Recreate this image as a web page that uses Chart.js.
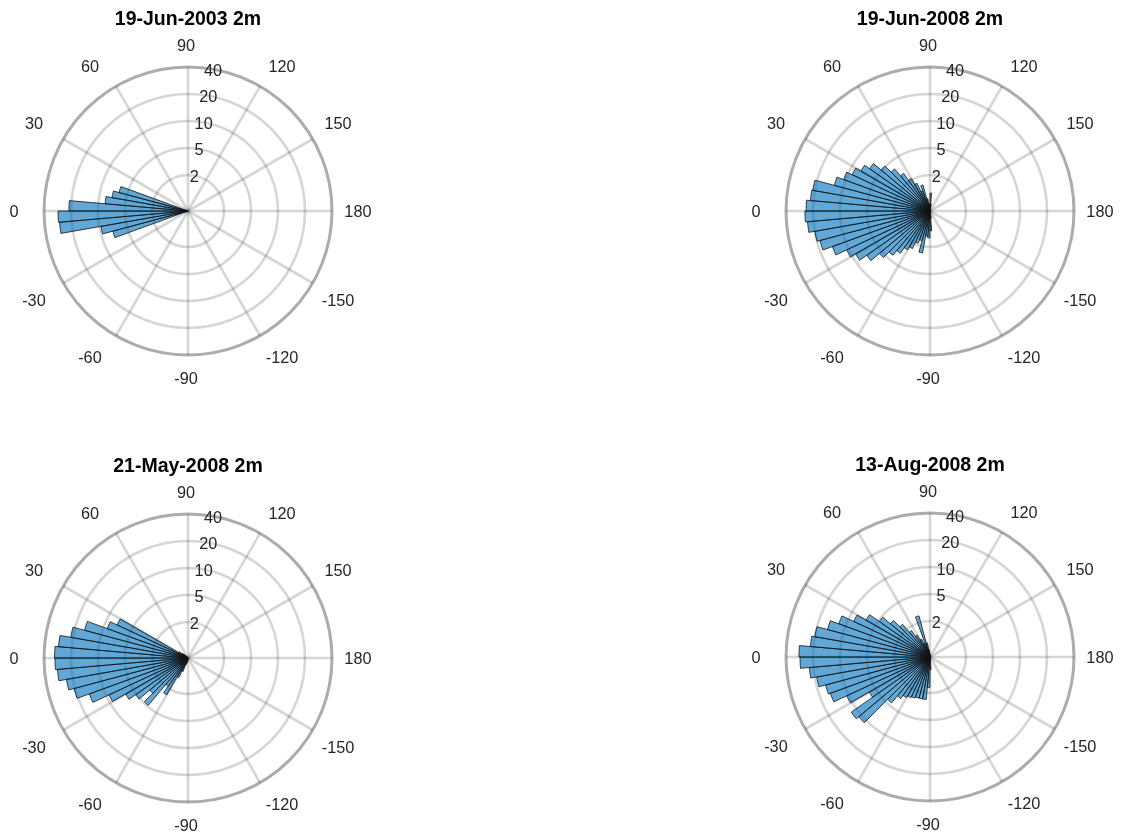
<!DOCTYPE html>
<html>
<head>
<meta charset="utf-8">
<script src="https://cdn.jsdelivr.net/npm/chart.js@4.4.1/dist/chart.umd.min.js"></script>
<style>
  html, body { margin: 0; padding: 0; background: #fff; }
  body { width: 1124px; height: 836px; position: relative; overflow: hidden; }
  canvas { position: absolute; }
</style>
</head>
<body>
<canvas id="p1" width="380" height="400" style="left:-2px;top:6px"></canvas>
<canvas id="p2" width="380" height="400" style="left:740px;top:6px"></canvas>
<canvas id="p3" width="380" height="400" style="left:-2px;top:453px"></canvas>
<canvas id="p4" width="380" height="400" style="left:740px;top:452px"></canvas>
<script>
// Start angle (deg) of each 5-degree direction bin; bins outside this range are empty.
const angleBinStarts = [-100, -95, -90, -85, -80, -75, -70, -65, -60, -55,
                        -50, -45, -40, -35, -30, -25, -20, -15, -10, -5,
                        0, 5, 10, 15, 20, 25, 30, 35, 40, 45,
                        50, 55, 60, 65, 70, 75, 80, 85, 90, 95];

// Counts per bin, same order as angleBinStarts.
const counts19Jun2003 = [0, 0, 0, 0, 0, 0, 0, 0, 0, 0,
                         0, 0, 0, 0, 0, 0, 7.3, 9.6, 27.2, 27.9,
                         21.1, 8.4, 7.2, 6.2, 0, 0, 0, 0, 0, 0,
                         0, 0, 0, 0, 0, 0, 0, 0, 0, 0];
const counts19Jun2008 = [0.4, 1.1, 1.5, 1.4, 2.5, 1.7, 1.9, 2.4, 2.7, 3.4,
                         4.2, 5.4, 7.2, 9.0, 10.5, 14.3, 18.5, 20.0, 23.3, 24.6,
                         23.9, 21.6, 21.1, 12.6, 10.5, 9.0, 7.7, 6.6, 5.1, 3.8,
                         2.8, 2.1, 1.7, 1.2, 1.5, 0.7, 0.4, 0.3, 1.0, 0.4];
const counts21May2008 = [0, 0, 0, 0.2, 0.3, 0.4, 0.8, 1.2, 2.5, 1.9,
                         4.8, 3.2, 5.1, 6.3, 9.3, 14.7, 20.5, 23.6, 28.7, 30.2,
                         30.5, 27.9, 21.1, 15.5, 9.0, 7.4, 0.6, 0.4, 0.3, 0.2,
                         0, 0, 0, 0, 0, 0, 0, 0, 0, 0];
const counts13Aug2008 = [0, 0.7, 1.7, 2.5, 2.5, 2.5, 2.6, 2.7, 2.9, 3.3,
                         4.5, 10.8, 11.7, 6.0, 10.5, 15.1, 15.9, 19.0, 22.2, 27.9,
                         28.7, 21.6, 20.0, 15.1, 12.0, 8.6, 6.6, 4.8, 3.4, 2.5,
                         1.8, 1.4, 1.1, 0.8, 2.5, 0.8, 0.4, 0.2, 0, 0];

const panelTitles = ['19-Jun-2003 2m', '19-Jun-2008 2m', '21-May-2008 2m', '13-Aug-2008 2m'];

// Radial rings and their labels; angle tick labels every 30 degrees.
const ringTickLabels = ['2', '5', '10', '20', '40'];
const ringTickCounts = [2, 5, 10, 20, 40];
const angleTickDeg = [0, 30, 60, 90, 120, 150, 180, -150, -120, -90, -60, -30];

const FONT = "'Liberation Sans', Arial, Helvetica, sans-serif";
const R_MIN = -1 / 3;            // radial position of the centre, in ring units
const GRID = 'rgba(38,38,38,0.19)';
const OUTER = 'rgba(38,38,38,0.38)';

// Counts map onto equally spaced rings (2,5,10,20,40 at ring 1..5).
function countToRing(v) {
  if (!v || v <= 0) return R_MIN;
  if (v < ringTickCounts[0]) return R_MIN + (1 - R_MIN) * v / ringTickCounts[0];
  for (let i = 0; i < ringTickCounts.length - 1; i++) {
    const a = ringTickCounts[i], b = ringTickCounts[i + 1];
    if (v <= b) return (i + 1) + Math.log(v / a) / Math.log(b / a);
  }
  return ringTickCounts.length;
}

// Chart index k covers the bin starting at 90 + 5k degrees (clockwise, 0 on the left).
const NBINS = 72;
function binAngle(k) {
  let th = 90 + 5 * k;
  if (th >= 180) th -= 360;
  return th;
}
function toChartOrder(counts) {
  const out = [];
  for (let k = 0; k < NBINS; k++) {
    const j = angleBinStarts.indexOf(binAngle(k));
    out.push(countToRing(j >= 0 ? counts[j] : 0));
  }
  return out;
}

// Offset of an angle label from the centre, as a multiple of the outer radius,
// for labels 0, 30, 60 and 90 degrees away from the horizontal axis.
const LABEL_H = [1.194, 1.056, 0.667, 0];
const LABEL_V = [0, 0.615, 1.007, 1.153];

function angleLabelOffset(a, R) {
  const r = a * Math.PI / 180;
  const cs = -Math.cos(r), sn = -Math.sin(r);
  let fold = Math.abs(a) % 180;
  if (fold > 90) fold = 180 - fold;
  const i = Math.round(fold / 30);
  return {
    dx: Math.sign(Math.round(cs * 1000)) * LABEL_H[i] * R,
    dy: Math.sign(Math.round(sn * 1000)) * LABEL_V[i] * R
  };
}

const textPlugin = {
  id: 'polarText',
  afterDraw(chart) {
    const ctx = chart.ctx;
    const s = chart.scales.r;
    const xc = s.xCenter, yc = s.yCenter, R = s.drawingArea;
    ctx.save();
    // title
    ctx.fillStyle = '#000';
    ctx.font = 'bold 19.5px ' + FONT;
    ctx.textAlign = 'center';
    ctx.textBaseline = 'middle';
    ctx.fillText(chart.options.plugins.panelTitle, xc, yc - 191);
    // angle labels
    ctx.fillStyle = '#262626';
    ctx.font = '16.3px ' + FONT;
    angleTickDeg.forEach(a => {
      const o = angleLabelOffset(a, R);
      ctx.fillText(String(a), xc - 2 + o.dx, yc + 2 + o.dy);
    });
    // ring labels along a ray 10 degrees right of vertical
    const tilt = 10 * Math.PI / 180;
    ringTickLabels.forEach((lab, i) => {
      const d = s.getDistanceFromCenterForValue(i + 1);
      ctx.fillText(lab, xc + d * Math.sin(tilt), yc - d * Math.cos(tilt) + 2);
    });
    ctx.restore();
  }
};

const chartLabels = [];
for (let k = 0; k < NBINS; k++) chartLabels.push(String(binAngle(k)));

function makePanel(id, title, counts) {
  new Chart(document.getElementById(id), {
    type: 'polarArea',
    data: {
      labels: chartLabels,
      datasets: [{
        data: toChartOrder(counts),
        backgroundColor: 'rgba(0,114,189,0.62)',
        borderColor: '#111',
        borderWidth: 0.8,
        borderJoinStyle: 'miter',
        borderAlign: 'center'
      }]
    },
    options: {
      responsive: false,
      animation: false,
      devicePixelRatio: 1,
      layout: { padding: { left: 46, right: 46, top: 61, bottom: 51 } },
      plugins: {
        legend: { display: false },
        tooltip: { enabled: false },
        panelTitle: title
      },
      scales: {
        r: {
          type: 'radialLinear',
          min: R_MIN,
          max: 5,
          startAngle: 0,
          afterBuildTicks: (scale) => {
            scale.ticks = [R_MIN, 1, 2, 3, 4, 5].map(v => ({ value: v }));
          },
          ticks: { display: false },
          pointLabels: { display: false },
          grid: {
            circular: true,
            color: (c) => (c.tick && c.tick.value === 5) ? OUTER : GRID,
            lineWidth: (c) => (c.tick && c.tick.value === 5) ? 3 : 2.6
          },
          angleLines: {
            display: true,
            color: (c) => (c.index % 6 === 0) ? GRID : 'rgba(0,0,0,0)',
            lineWidth: (c) => (c.index % 6 === 0) ? 2.6 : 0
          }
        }
      }
    },
    plugins: [textPlugin]
  });
}

makePanel('p1', panelTitles[0], counts19Jun2003);
makePanel('p2', panelTitles[1], counts19Jun2008);
makePanel('p3', panelTitles[2], counts21May2008);
makePanel('p4', panelTitles[3], counts13Aug2008);
</script>
</body>
</html>
